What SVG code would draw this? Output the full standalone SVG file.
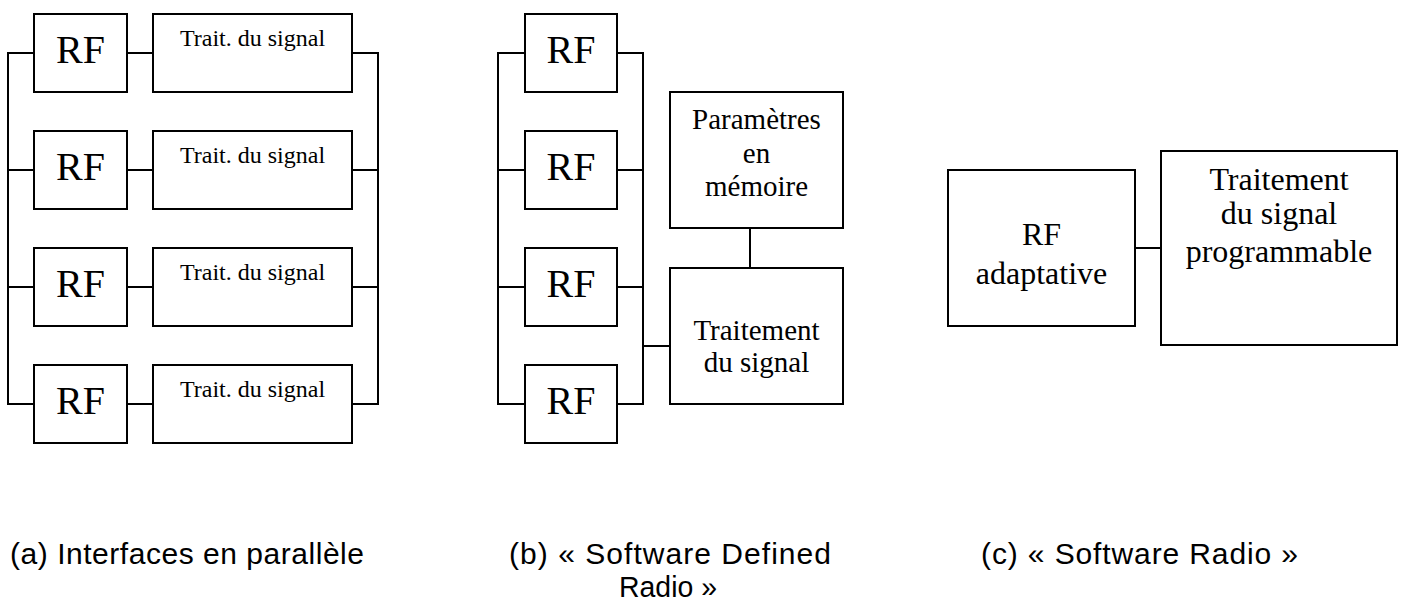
<svg xmlns="http://www.w3.org/2000/svg" width="1402" height="603" viewBox="0 0 1402 603">
<style>
.box{fill:#fff;stroke:#000;stroke-width:2}
.ln{fill:none;stroke:#000;stroke-width:2}
.s{font-family:"Liberation Serif","Times New Roman",serif;fill:#000;text-anchor:middle}
.rf{font-size:40px}
.tr{font-size:24px}
.b{font-size:29px}
.c{font-size:32px}
.cap{font-family:"Liberation Sans",Arial,sans-serif;font-size:30px;fill:#000}
</style>
<rect width="1402" height="603" fill="#fff"/>
<g id="connectors">
<path class="ln" d="M34 53H8V404H34M34 170H8M34 287H8"/>
<path class="ln" d="M127 53H153M127 170H153M127 287H153M127 404H153"/>
<path class="ln" d="M352 53H378V404H352M352 170H378M352 287H378"/>
<path class="ln" d="M525 53H498V404H525M525 170H498M525 287H498"/>
<path class="ln" d="M617 53H643V404H617M617 170H643M617 287H643M643 346H670"/>
<path class="ln" d="M750 228V268"/>
<path class="ln" d="M1135 248H1161"/>
</g>
<g id="a-rf1"><rect class="box" x="34" y="14" width="93" height="78"/><text class="s rf" x="80.5" y="63">RF</text></g>
<g id="a-rf2"><rect class="box" x="34" y="131" width="93" height="78"/><text class="s rf" x="80.5" y="180">RF</text></g>
<g id="a-rf3"><rect class="box" x="34" y="248" width="93" height="78"/><text class="s rf" x="80.5" y="297">RF</text></g>
<g id="a-rf4"><rect class="box" x="34" y="365" width="93" height="78"/><text class="s rf" x="80.5" y="414">RF</text></g>
<g id="a-ts1"><rect class="box" x="153" y="14" width="199" height="78"/><text class="s tr" x="252.5" y="46">Trait. du signal</text></g>
<g id="a-ts2"><rect class="box" x="153" y="131" width="199" height="78"/><text class="s tr" x="252.5" y="163">Trait. du signal</text></g>
<g id="a-ts3"><rect class="box" x="153" y="248" width="199" height="78"/><text class="s tr" x="252.5" y="280">Trait. du signal</text></g>
<g id="a-ts4"><rect class="box" x="153" y="365" width="199" height="78"/><text class="s tr" x="252.5" y="397">Trait. du signal</text></g>
<g id="b-rf1"><rect class="box" x="525" y="14" width="92" height="78"/><text class="s rf" x="571" y="63">RF</text></g>
<g id="b-rf2"><rect class="box" x="525" y="131" width="92" height="78"/><text class="s rf" x="571" y="180">RF</text></g>
<g id="b-rf3"><rect class="box" x="525" y="248" width="92" height="78"/><text class="s rf" x="571" y="297">RF</text></g>
<g id="b-rf4"><rect class="box" x="525" y="365" width="92" height="78"/><text class="s rf" x="571" y="414">RF</text></g>
<g id="b-param"><rect class="box" x="670" y="92" width="173" height="136"/><text class="s b" x="756.5" y="129">Paramètres</text><text class="s b" x="756.5" y="163">en</text><text class="s b" x="756.5" y="196">mémoire</text></g>
<g id="b-trait"><rect class="box" x="670" y="268" width="173" height="136"/><text class="s b" x="756.5" y="340">Traitement</text><text class="s b" x="756.5" y="372">du signal</text></g>
<g id="c-rf"><rect class="box" x="948" y="170" width="187" height="156"/><text class="s c" x="1041.5" y="245">RF</text><text class="s c" x="1041.5" y="284">adaptative</text></g>
<g id="c-trait"><rect class="box" x="1161" y="151" width="236" height="194"/><text class="s c" x="1279" y="190">Traitement</text><text class="s c" x="1279" y="224">du signal</text><text class="s c" x="1279" y="262">programmable</text></g>
<g id="captions">
<text class="cap" x="10" y="564" textLength="354" lengthAdjust="spacing">(a) Interfaces en parallèle</text>
<text class="cap" x="509" y="564" textLength="322" lengthAdjust="spacing">(b) « Software Defined</text>
<text class="cap" x="668" y="597" text-anchor="middle" textLength="98" lengthAdjust="spacingAndGlyphs">Radio »</text>
<text class="cap" x="981" y="564" textLength="317" lengthAdjust="spacing">(c) « Software Radio »</text>
</g>
</svg>
